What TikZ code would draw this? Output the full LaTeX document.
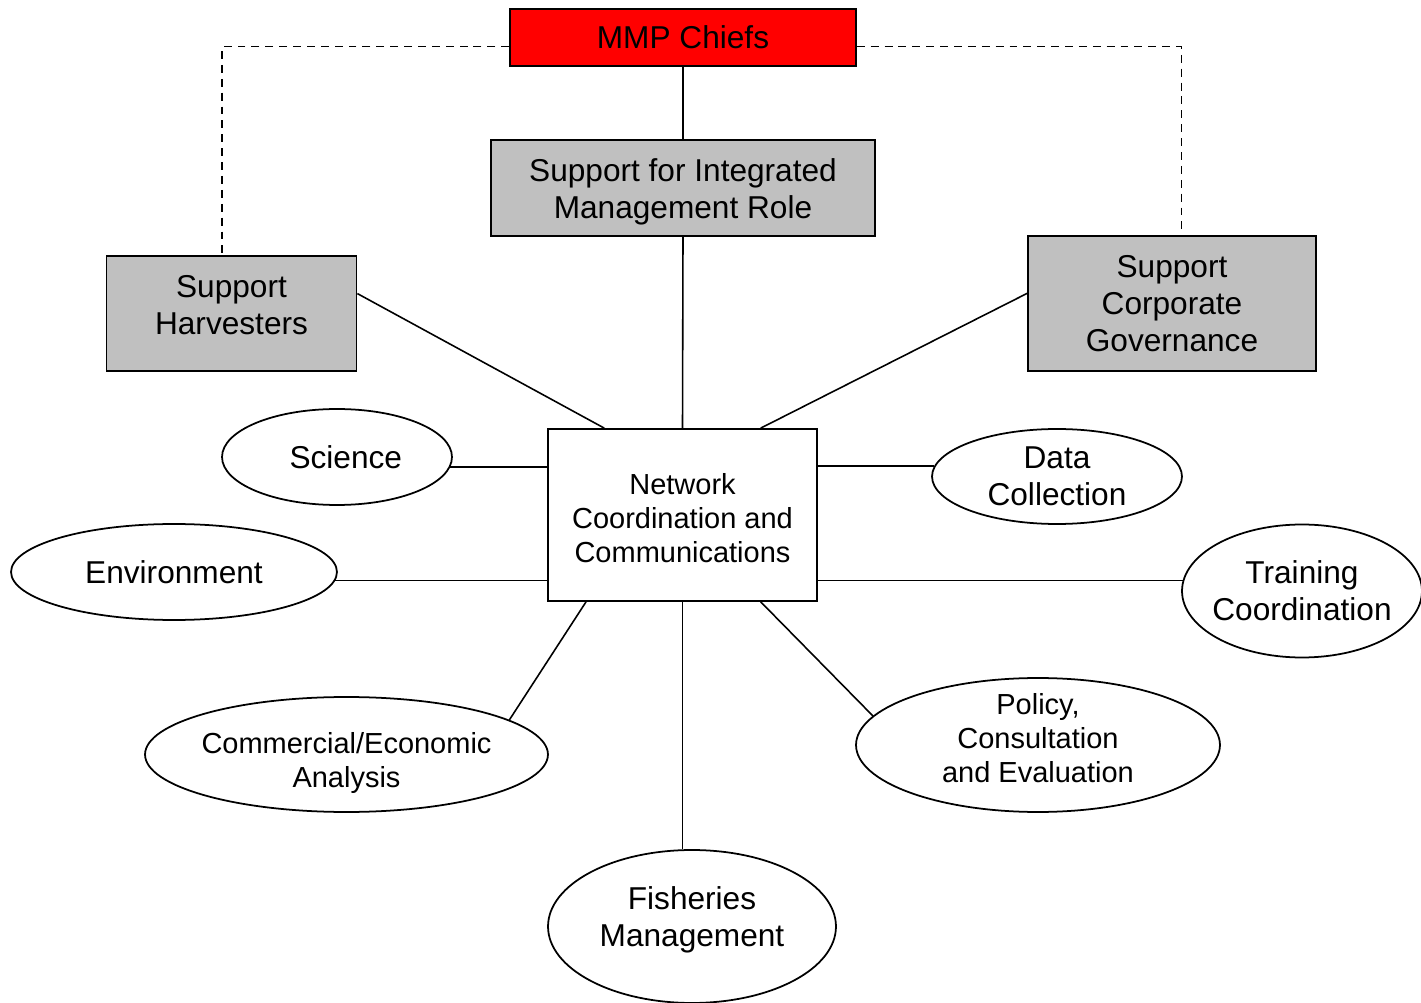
\documentclass[tikz,border=0pt]{standalone}
\usepackage{fontspec}
\setmainfont{Liberation Sans}
\usetikzlibrary{shapes.geometric}
\definecolor{chiefred}{RGB}{255,0,0}
\definecolor{boxgray}{RGB}{192,192,192}
\tikzset{
  blk/.style={draw, rectangle, line width=1pt, align=center, inner sep=0pt, font=\fontsize{18}{21}\selectfont},
  gblk/.style={blk, fill=boxgray},
  oval/.style={draw, ellipse, line width=1pt, align=center, inner sep=-12pt, font=\fontsize{18}{21}\selectfont},
  soval/.style={oval, font=\fontsize{16.5}{19.3}\selectfont},
  ln/.style={line width=0.9pt},
  dln/.style={line width=0.9pt, dash pattern=on 4.5pt off 3.4pt},
}
\begin{document}
\begin{tikzpicture}[x=0.02cm, y=-0.02cm]
\useasboundingbox (0,0) rectangle (1421,1003);

% Top of the chart
\node[blk, fill=chiefred, minimum width=6.92cm, minimum height=1.14cm] (chiefs) at (683,37.5) {MMP Chiefs};
\node[gblk, minimum width=7.68cm, minimum height=1.92cm, text height=38.6pt] (integrated) at (683,188)
  {Support for Integrated\\Management Role};
\node[gblk, minimum width=5cm, minimum height=2.3cm, text height=24pt] (harvesters) at (231.5,313.5)
  {Support\\Harvesters};
\node[gblk, minimum width=5.76cm, minimum height=2.7cm] (corporate) at (1172,303.5)
  {Support\\Corporate\\Governance};

% Hub
\node[blk, fill=white, minimum width=5.38cm, minimum height=3.44cm, font=\fontsize{16.5}{19.3}\selectfont,
  text height=54pt] (network) at (682.5,515)
  {Network\\Coordination and\\Communications};

% Outer ovals
\node[oval, minimum width=4.6cm, minimum height=1.92cm] (science) at (337,457) {\hspace*{10pt}Science};
\node[oval, minimum width=5cm, minimum height=1.9cm] (data) at (1057,476.5) {Data\\Collection};
\node[oval, minimum width=6.52cm, minimum height=1.92cm] (environment) at (174,572) {Environment};
\node[oval, minimum width=4.8cm, minimum height=2.66cm] (training) at (1302,591) {Training\\Coordination};
\node[soval, minimum width=8.06cm, minimum height=2.3cm, text height=40.6pt] (commercial) at (346.5,754.5)
  {Commercial/Economic\\Analysis};
\node[soval, minimum width=7.28cm, minimum height=2.68cm, text height=42.7pt] (policy) at (1038,745)
  {Policy,\\Consultation\\and Evaluation};
\node[oval, minimum width=5.76cm, minimum height=3.06cm, text height=26.1pt] (fisheries) at (692,926.5)
  {Fisheries\\Management};

% Links
\draw[ln] (chiefs.south) -- (integrated.north);
\draw[ln] (integrated.south) -- (network.north);
\draw[dln] ([yshift=-0.18cm]chiefs.west) -| (harvesters.99);
\draw[dln] ([yshift=-0.18cm]chiefs.east) -| (corporate.82);
\draw[ln] (harvesters.9) -- (network.132);
\draw[ln] (corporate.176) -- (network.48);
\draw[ln] (science.-5) -- (science.-5 -| network.west);
\draw[ln] (data.175) -- (data.175 -| network.east);
\draw[ln] (environment.-3) -- (environment.-3 -| network.west);
\draw[ln] (training.175) -- (training.175 -| network.east);
\draw[ln] (commercial.12) -- (network.-138);
\draw[ln] (policy.170) -- (network.-48);
\draw[ln] (network.south) -- (network.south |- fisheries.north);

\end{tikzpicture}
\end{document}
